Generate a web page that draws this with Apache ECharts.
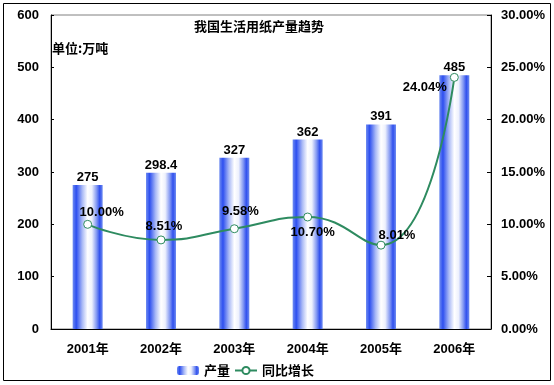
<!DOCTYPE html>
<html><head><meta charset="utf-8">
<script src="https://cdn.jsdelivr.net/npm/echarts@6/dist/echarts.min.js"></script>
<style>html,body{margin:0;padding:0;background:#fff}#c{width:554px;height:385px}</style>
</head><body><div id="c"></div>
<script>
const categories = ['2001年','2002年','2003年','2004年','2005年','2006年'];
const output = [275, 298.4, 327, 362, 391, 485];
const growth = [0.1000, 0.0851, 0.0958, 0.1070, 0.0801, 0.2404];
const leftTicks = {min: 0, max: 600, interval: 100};
const rightTicks = {min: 0, max: 0.30, interval: 0.05};

const FONT = '"Liberation Sans", "Noto Sans CJK SC", sans-serif';
const CJK = '"Noto Sans CJK SC", sans-serif';
const FS = 13;
const barGrad = new echarts.graphic.LinearGradient(0, 0, 1, 0, [
  {offset: 0, color: '#6f8cf0'},
  {offset: 0.12, color: '#2d4ff0'},
  {offset: 0.32, color: '#a9b9f6'},
  {offset: 0.5, color: '#ffffff'},
  {offset: 0.64, color: '#eef1fd'},
  {offset: 0.8, color: '#8096f2'},
  {offset: 0.9, color: '#3050ee'},
  {offset: 1, color: '#6f8cf0'}
]);
const lineLabelCfg = [
  {position: 'top', distance: 1, offset: [14, 0]},
  {position: 'top', distance: 3, offset: [3, 0]},
  {position: 'top', distance: 6, offset: [6, 0]},
  {position: 'bottom', distance: 4, offset: [5, 0]},
  {position: 'top', distance: -1, offset: [16, 0]},
  {position: 'left', distance: 3, offset: [0, 10]}
];
const chart = echarts.init(document.getElementById('c'), null, {renderer: 'canvas'});
chart.setOption({
  animation: false,
  backgroundColor: '#fff',
  textStyle: {fontFamily: FONT},
  title: {
    text: '我国生活用纸产量趋势', left: 254, top: 15, textAlign: 'center',
    textStyle: {fontSize: FS, fontWeight: 'bold', color: '#000', fontFamily: CJK}
  },
  graphic: [
    {type: 'rect', shape: {x: 3.5, y: 3.5, width: 547, height: 377}, style: {fill: 'none', stroke: '#000', lineWidth: 1}, z: -1},
    {type: 'text', left: 52, top: 42, style: {text: '单位:万吨', font: 'bold 13px "Noto Sans CJK SC", sans-serif', fill: '#000'}}
  ],
  legend: {
    left: 172, top: 359, itemGap: 4, itemWidth: 22, itemHeight: 9,
    textStyle: {fontSize: FS, fontWeight: 'bold', color: '#000', fontFamily: CJK},
    data: ['产量', '同比增长']
  },
  grid: {left: 51, right: 63, top: 15, bottom: 56, show: true, borderColor: '#808080', borderWidth: 1},
  xAxis: {
    type: 'category', data: categories,
    axisLine: {lineStyle: {color: '#000', width: 1}},
    axisTick: {inside: true, length: 3, lineStyle: {color: '#000'}},
    axisLabel: {margin: 14, fontSize: FS, fontWeight: 'bold', color: '#000'}
  },
  yAxis: [
    {
      type: 'value', min: leftTicks.min, max: leftTicks.max, interval: leftTicks.interval,
      axisLine: {show: true, lineStyle: {color: '#000'}},
      axisTick: {show: true, inside: true, length: 3, lineStyle: {color: '#000'}},
      axisLabel: {margin: 12, fontSize: FS, fontWeight: 'bold', color: '#000'},
      splitLine: {show: false}
    },
    {
      type: 'value', min: rightTicks.min, max: rightTicks.max, interval: rightTicks.interval,
      axisLine: {show: true, lineStyle: {color: '#000'}},
      axisTick: {show: true, inside: true, length: 4, lineStyle: {color: '#000'}},
      axisLabel: {margin: 10, fontSize: FS, fontWeight: 'bold', color: '#000',
        formatter: v => (v * 100).toFixed(2) + '%'},
      splitLine: {show: false}
    }
  ],
  series: [
    {
      name: '产量', type: 'bar', data: output, barWidth: 30,
      itemStyle: {color: barGrad},
      label: {show: true, position: 'top', distance: 1, fontSize: FS, fontWeight: 'bold', color: '#000', fontFamily: FONT}
    },
    {
      name: '同比增长', type: 'line', yAxisIndex: 1, smooth: 0.5,
      data: growth.map((v, i) => ({value: v, label: lineLabelCfg[i]})),
      symbol: 'circle', symbolSize: 8,
      lineStyle: {color: '#2e8b60', width: 2},
      itemStyle: {color: '#fff', borderColor: '#2e8b60', borderWidth: 1},
      label: {show: true, fontSize: FS, fontWeight: 'bold', color: '#000', fontFamily: FONT,
        formatter: p => (p.value * 100).toFixed(2) + '%'}
    }
  ]
});
</script></body></html>
